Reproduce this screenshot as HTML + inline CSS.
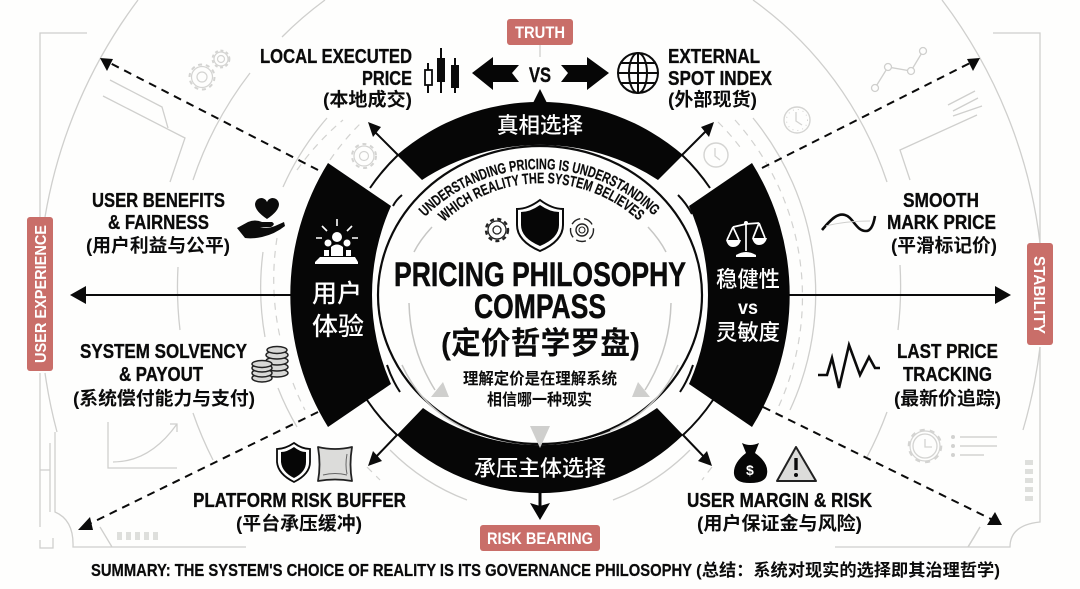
<!DOCTYPE html>
<html lang="en"><head><meta charset="utf-8"><title>Pricing Philosophy Compass</title>
<style>
html,body{margin:0;padding:0;background:#fefefd;width:1080px;height:589px;overflow:hidden}
svg{display:block}
text{font-family:"Liberation Sans","Noto Sans CJK SC",sans-serif;font-weight:700;fill:#0b0b0b}
.l{font-size:20.5px;stroke:#0b0b0b;stroke-width:.35px}.c{font-size:18.5px}.w{fill:#fff}
.g{fill:none;stroke:#cfcfcd;stroke-width:1.3}
.d{fill:none;stroke:#d2d2d0;stroke-width:1.2;stroke-dasharray:7 6}
.b{fill:none;stroke:#0b0b0b;stroke-width:2}
.da{fill:none;stroke:#0b0b0b;stroke-width:2;stroke-dasharray:8 6}
</style></head><body>
<svg width="1080" height="589" viewBox="0 0 1080 589" xmlns="http://www.w3.org/2000/svg">
<!-- frames -->
<path class="g" d="M87 33H40V217M993 33H1040V243M40 373V527M55 432V512Q74 520 73 547H246M50 443V512M40 470H50M40 540V548H53V538M100 527L112 547M835 547H1010Q1010 525 1040 522V347M968 547L980 527"/>
<path d="M117 536H162M1029 460V503" fill="none" stroke="#dedfdc" stroke-width="8" stroke-dasharray="5 4"/>
<!-- large arcs -->
<path class="g" d="M45 217A500 500 0 0 1 138 0M942 0A500 500 0 0 1 1040 243M1040 347A500 500 0 0 1 1023 430M980 527A500 500 0 0 1 968 547M45 373A500 500 0 0 0 57 432"/>
<path class="g" d="M193 180A365 365 0 0 1 250 73M282 37A365 365 0 0 1 325 0M753 0A365 365 0 0 1 887 182M900 265A365 365 0 0 1 898 330M887 412A365 365 0 0 1 867 457M178 267A365 365 0 0 0 180 330M193 413A365 365 0 0 0 213 460"/>
<path class="g" d="M283 187A277 277 0 0 1 327 118M753 118A277 277 0 0 1 790 410M263 252A277 277 0 0 0 265 337M278 388A277 277 0 0 0 297 427M390 450A216 216 0 0 0 467 500M690 450A216 216 0 0 1 613 500"/>
<path class="d" d="M297 170A265 265 0 0 1 343 120M735 120A265 265 0 0 1 777 410M277 238A265 265 0 0 0 280 337M293 383A265 265 0 0 0 305 410M330 160A248 248 0 0 1 362 122M718 122A248 248 0 0 1 740 147M367 467L380 480M712 467L702 480"/>
<!-- decor lines -->
<path class="g" d="M110 80L162 107L168 128M103 96L185 138L170 182M948 105L975 91M953 111L978 98M953 116L982 106M977 115L900 150L910 180M108 422V468H177M113 462Q150 462 177 424M170 424H177V432"/>
<path class="g" d="M875 88L888 67L911 71L923 51"/>
<g fill="#fefefd" stroke="#cfcfcd" stroke-width="1.3"><circle cx="875" cy="88" r="3.5"/><circle cx="888" cy="67" r="3.5"/><circle cx="911" cy="71" r="3.5"/><circle cx="923" cy="51" r="3.5"/></g>
<!-- gears & clocks -->
<g fill="none" stroke="#d4d4d2">
<circle cx="202" cy="77" r="10.5" stroke-width="1.2"/><circle cx="202" cy="77" r="12.5" stroke-width="2" stroke-dasharray="4 3.8"/><circle cx="202" cy="77" r="5" stroke-width="1.2"/>
<circle cx="221" cy="59" r="7" stroke-width="1.2"/><circle cx="221" cy="59" r="8.5" stroke-width="1.8" stroke-dasharray="3 2.6"/><circle cx="221" cy="59" r="3.5" stroke-width="1.2"/>
<circle cx="364" cy="156" r="10" stroke-width="1.2"/><circle cx="364" cy="156" r="12" stroke-width="2" stroke-dasharray="4 3.8"/><circle cx="364" cy="156" r="4.5" stroke-width="1.2"/>
<circle cx="716" cy="155" r="12" stroke-width="1.4"/><path d="M715 148V156L720 160" stroke-width="1.3"/>
<circle cx="797" cy="120" r="13" stroke-width="1.4"/><circle cx="797" cy="120" r="10.5" stroke-width="1" stroke-dasharray="1 4"/><path d="M796 112V121L802 125" stroke-width="1.3"/>
<circle cx="925" cy="446" r="12" stroke-width="1.3"/><circle cx="925" cy="446" r="16" stroke-width="2.6" stroke-dasharray="5 5"/><circle cx="925" cy="446" r="15" stroke-width="1.2"/><path d="M925 439V447H932" stroke-width="1.3"/>
<path d="M960 437H997M960 446H997M960 455H984" stroke-width="1.5"/>
</g>
<g fill="#d2d2d0"><circle cx="953" cy="437" r="2"/><circle cx="953" cy="446" r="2"/><circle cx="953" cy="455" r="2"/></g>
<!-- axes -->
<path class="b" d="M82 295H292M788 295H1000"/>
<path d="M70 295L86 286V304ZM1011 295L995 286V304Z" fill="#0b0b0b"/>
<path class="da" d="M318 170L106 61M762 168L974 61M318 412L85 526M763 407L995 521"/>
<path d="M100 58L113 59L107 71ZM980 58L967 59L973 71ZM78 530L90 517L93 530ZM1002 525L987 525L995 512Z" fill="#0b0b0b"/>
<!-- gap arcs + arrows -->
<path class="b" d="M370 188A200 200 0 0 1 398 155L372 129M710 188A200 200 0 0 0 682 155L708 129M367 400A200 200 0 0 0 397 435L373 460M713 400A200 200 0 0 1 683 435L707 460"/>
<path d="M368 122L381 127L373 137ZM714 122L701 127L709 137ZM368 466L382 461L373 451ZM712 466L698 461L707 451Z" fill="#0b0b0b"/>
<!-- sectors -->
<g fill="#060606">
<path d="M328 163A250 250 0 0 0 328 427L391 384A218 218 0 0 1 391 206Z"/>
<path d="M752 163A250 250 0 0 1 752 427L689 384A218 218 0 0 0 689 206Z"/>
<path d="M397 155A219 219 0 0 1 683 155L658 180A216 216 0 0 0 422 180Z"/>
<path d="M397 435A205 205 0 0 0 683 435L657 408A203 203 0 0 1 423 408Z"/>
<path d="M540 89L533 103H547Z"/>
<path d="M538.5 490V508H541.5V490Z"/><path d="M540 520L530 503L540 506L550 503Z"/>
</g>
<!-- center -->
<ellipse cx="540" cy="295" rx="162" ry="149" fill="#fefefd" stroke="#0b0b0b" stroke-width="2.2"/>
<path class="b" d="M402 195Q396 200 393 206M400 392Q392 380 387 365M678 195Q686 203 692 214M680 392Q688 380 693 365" stroke-width="1.6"/>
<path class="g" d="M409 303Q410 350 435 390M671 303Q670 350 645 390M414 252Q420 240 432 227M666 252Q660 240 648 227M402 365Q425 415 480 435M678 365Q655 415 600 435" style="stroke:#c6c6c4;stroke-width:1.5"/>
<path class="b" d="M470 430Q485 436 498 439M610 430Q595 436 582 439" stroke-width="1.6"/>
<path d="M530 426H550L540 448ZM443 382L449 397H431ZM638 382L632 397H650Z" fill="#cfcfcd"/>
<!-- pills -->
<g fill="#c96e69">
<rect x="27" y="217" width="26" height="154" rx="3"/>
<rect x="1027" y="243" width="26" height="102" rx="3"/>
<rect x="507" y="19" width="66" height="26" rx="3"/>
<rect x="480" y="525" width="120" height="26" rx="3"/>
</g>
<path class="g" d="M540 45V57"/>
<text class="w" font-size="17" x="515" y="38" textLength="50" lengthAdjust="spacingAndGlyphs">TRUTH</text>
<text class="w" font-size="17" x="487" y="544" textLength="106" lengthAdjust="spacingAndGlyphs">RISK BEARING</text>
<text class="w" font-size="16" transform="translate(46 363) rotate(-90)" textLength="138" lengthAdjust="spacingAndGlyphs">USER EXPERIENCE</text>
<text class="w" font-size="16" transform="translate(1034 256) rotate(90)" textLength="78" lengthAdjust="spacingAndGlyphs">STABILITY</text>
<!-- VS arrows -->
<path d="M472 73L493 57V65H519L512 73L519 82H493V90Z" fill="#060606"/>
<path d="M609 73L587 57V65H561L568 73L561 82H587V90Z" fill="#060606"/>
<text font-size="21" x="529" y="82" textLength="22" lengthAdjust="spacingAndGlyphs" stroke="#0b0b0b" stroke-width=".4">VS</text>
<!-- candles -->
<path class="b" d="M428 63V93M441 48V93M455 58V93"/>
<rect x="425" y="70" width="7" height="15" fill="#fff" stroke="#0b0b0b" stroke-width="1.8"/>
<rect x="437" y="58" width="8" height="24" fill="#0b0b0b"/><rect x="451" y="65" width="8" height="23" fill="#0b0b0b"/>
<!-- globe -->
<g fill="none" stroke="#0b0b0b" stroke-width="2"><circle cx="638" cy="73" r="20"/><ellipse cx="638" cy="73" rx="9" ry="20"/><path d="M638 53V93M618 73H658M621 63H655M621 83H655"/></g>
<!-- labels -->
<text class="l" x="260" y="63" textLength="152" lengthAdjust="spacingAndGlyphs">LOCAL EXECUTED</text>
<text class="l" x="362" y="85" textLength="50" lengthAdjust="spacingAndGlyphs">PRICE</text>
<text class="c" x="323" y="106" textLength="89" lengthAdjust="spacingAndGlyphs">(本地成交)</text>
<text class="l" x="668" y="63" textLength="92" lengthAdjust="spacingAndGlyphs">EXTERNAL</text>
<text class="l" x="668" y="85" textLength="104" lengthAdjust="spacingAndGlyphs">SPOT INDEX</text>
<text class="c" x="668" y="106" textLength="89" lengthAdjust="spacingAndGlyphs">(外部现货)</text>
<text class="l" x="92" y="207" textLength="133" lengthAdjust="spacingAndGlyphs">USER BENEFITS</text>
<text class="l" x="108" y="229" textLength="101" lengthAdjust="spacingAndGlyphs">&amp; FAIRNESS</text>
<text class="c" x="86" y="252" textLength="144" lengthAdjust="spacingAndGlyphs">(用户利益与公平)</text>
<text class="l" x="903" y="207" textLength="76" lengthAdjust="spacingAndGlyphs">SMOOTH</text>
<text class="l" x="887" y="229" textLength="109" lengthAdjust="spacingAndGlyphs">MARK PRICE</text>
<text class="c" x="891" y="252" textLength="106" lengthAdjust="spacingAndGlyphs">(平滑标记价)</text>
<text class="l" x="80" y="358" textLength="167" lengthAdjust="spacingAndGlyphs">SYSTEM SOLVENCY</text>
<text class="l" x="119" y="381" textLength="84" lengthAdjust="spacingAndGlyphs">&amp; PAYOUT</text>
<text class="c" x="73" y="405" textLength="182" lengthAdjust="spacingAndGlyphs">(系统偿付能力与支付)</text>
<text class="l" x="897" y="358" textLength="101" lengthAdjust="spacingAndGlyphs">LAST PRICE</text>
<text class="l" x="903" y="381" textLength="89" lengthAdjust="spacingAndGlyphs">TRACKING</text>
<text class="c" x="894" y="405" textLength="107" lengthAdjust="spacingAndGlyphs">(最新价追踪)</text>
<text class="l" x="193" y="507" textLength="213" lengthAdjust="spacingAndGlyphs">PLATFORM RISK BUFFER</text>
<text class="c" x="236" y="530" textLength="126" lengthAdjust="spacingAndGlyphs">(平台承压缓冲)</text>
<text class="l" x="687" y="507" textLength="185" lengthAdjust="spacingAndGlyphs">USER MARGIN &amp; RISK</text>
<text class="c" x="697" y="530" textLength="165" lengthAdjust="spacingAndGlyphs">(用户保证金与风险)</text>
<text font-size="17.5" x="91" y="576" textLength="601" lengthAdjust="spacingAndGlyphs" stroke="#0b0b0b" stroke-width=".25">SUMMARY: THE SYSTEM'S CHOICE OF REALITY IS ITS GOVERNANCE PHILOSOPHY</text>
<text font-size="17" x="696" y="576" textLength="304" lengthAdjust="spacingAndGlyphs">(总结&#xFF1A;系统对现实的选择即其治理哲学)</text>
<!-- sector text -->
<text class="w" font-size="22" x="497" y="133" textLength="86" lengthAdjust="spacingAndGlyphs" style="font-weight:500">真相选择</text>
<text class="w" font-size="22" x="474" y="476" textLength="132" lengthAdjust="spacingAndGlyphs" style="font-weight:500">承压主体选择</text>
<text class="w" font-size="25" x="312" y="302" textLength="50" lengthAdjust="spacingAndGlyphs" style="font-weight:500">用户</text>
<text class="w" font-size="25" x="312" y="335" textLength="52" lengthAdjust="spacingAndGlyphs" style="font-weight:500">体验</text>
<text class="w" font-size="22" x="716" y="287" textLength="64" lengthAdjust="spacingAndGlyphs" style="font-weight:500">稳健性</text>
<text class="w" font-size="19" x="738" y="314" textLength="20" lengthAdjust="spacingAndGlyphs">vs</text>
<text class="w" font-size="22" x="716" y="340" textLength="64" lengthAdjust="spacingAndGlyphs" style="font-weight:500">灵敏度</text>
<!-- center text -->
<path id="a1" d="M425 217A162 162 0 0 1 655 217" fill="none"/>
<path id="a2" d="M444 222A143 143 0 0 1 640 222" fill="none"/>
<text font-size="15" stroke="#0b0b0b" stroke-width=".2"><textPath href="#a1" textLength="254" lengthAdjust="spacingAndGlyphs">UNDERSTANDING PRICING IS UNDERSTANDING</textPath></text>
<text font-size="15" stroke="#0b0b0b" stroke-width=".2"><textPath href="#a2" textLength="214" lengthAdjust="spacingAndGlyphs">WHICH REALITY THE SYSTEM BELIEVES</textPath></text>
<text font-size="34" x="394" y="286" textLength="292" lengthAdjust="spacingAndGlyphs" stroke="#0b0b0b" stroke-width=".5">PRICING PHILOSOPHY</text>
<text font-size="34" x="474" y="318" textLength="132" lengthAdjust="spacingAndGlyphs" stroke="#0b0b0b" stroke-width=".5">COMPASS</text>
<text font-size="31" x="441" y="354" textLength="199" lengthAdjust="spacingAndGlyphs">(定价哲学罗盘)</text>
<text font-size="16" x="463" y="384" textLength="154" lengthAdjust="spacingAndGlyphs">理解定价是在理解系统</text>
<text font-size="16" x="487" y="405" textLength="105" lengthAdjust="spacingAndGlyphs">相信哪一种现实</text>
<!-- center icons -->
<path d="M540 200Q528 209 517 209V225Q517 241 540 251Q563 241 563 225V209Q552 209 540 200Z" fill="none" stroke="#0b0b0b" stroke-width="2"/>
<path d="M540 205Q530 212 521 212V225Q521 238 540 246Q559 238 559 225V212Q550 212 540 205Z" fill="#060606"/>
<g fill="none" stroke="#222"><circle cx="497" cy="230" r="9" stroke-width="1.3"/><circle cx="497" cy="230" r="11" stroke-width="2.4" stroke-dasharray="4 3.4"/><circle cx="497" cy="230" r="4" stroke-width="1.3"/>
<circle cx="582" cy="230" r="11.5" stroke-width="1.4" stroke-dasharray="10 4"/><circle cx="582" cy="230" r="6" stroke-width="1.4"/><circle cx="582" cy="230" r="3" stroke-width="1.1"/></g>
<!-- people icon -->
<g fill="#fff"><circle cx="337" cy="237" r="5"/><circle cx="328" cy="243" r="3.5"/><circle cx="347" cy="243" r="3.5"/>
<path d="M331 256V247Q337 242 343 247V256ZM324 256V250H329V256ZM346 256V250H351V256ZM320 257H355L358 262V264H315V262Z"/></g>
<path d="M337 219V226M322 226L327 231M352 226L347 231M316 238H322M352 238H358" stroke="#fff" stroke-width="1.6" fill="none"/>
<!-- scale icon -->
<g stroke="#fff" fill="none" stroke-width="1.7"><path d="M746 224V251M733 227L746 224L759 223M733 227L727 240M733 227L739 240M759 223L753 238M759 223L765 238"/></g>
<g fill="#fff"><path d="M726 240H741Q739 247 733 247Q728 247 726 240ZM752 238H767Q765 245 759 245Q754 245 752 238ZM736 255Q746 249 756 255V257H736Z"/><circle cx="746" cy="223" r="2"/></g>
<!-- heart hand -->
<path d="M267 219Q255 211 255 204Q256 198 262 198Q266 199 267 202Q268 199 272 198Q278 198 279 204Q279 211 267 219Z" fill="#0b0b0b"/>
<path d="M237 228L248 222Q255 219 262 222H272Q276 224 271 227H260Q268 229 275 226L284 222L285 226Q275 234 262 237Q253 239 245 238Z" fill="#0b0b0b"/>
<!-- coins -->
<g fill="#d8d8d6" stroke="#222" stroke-width="1.5">
<ellipse cx="277" cy="373" rx="11" ry="4"/><ellipse cx="277" cy="367" rx="11" ry="4"/><ellipse cx="277" cy="361" rx="11" ry="4"/><ellipse cx="277" cy="355" rx="11" ry="4"/><ellipse cx="277" cy="350" rx="10" ry="3.5"/>
<ellipse cx="262" cy="378" rx="10" ry="4"/><ellipse cx="262" cy="373" rx="10" ry="4"/><ellipse cx="262" cy="368" rx="10" ry="4"/><ellipse cx="262" cy="364" rx="10" ry="3.5"/>
</g>
<!-- wave -->
<path d="M822 230C832 218 838 213 845 215C853 217 856 231 866 231C872 231 874 222 875 216" fill="none" stroke="#0b0b0b" stroke-width="2.6"/>
<path d="M826 226Q845 221 870 221" fill="none" stroke="#cfcfcd" stroke-width="1"/>
<!-- ecg -->
<path d="M818 375H827L832 358L839 388L849 345L860 375L869 357L875 368H880" fill="none" stroke="#0b0b0b" stroke-width="2.6"/>
<!-- shield & pillow -->
<path d="M294 443Q285 449 277 449V462Q278 474 294 482Q310 474 310 462V449Q302 449 294 443Z" fill="none" stroke="#0b0b0b" stroke-width="1.8"/>
<path d="M294 447Q287 452 281 452V462Q282 472 294 478Q306 472 306 462V452Q300 452 294 447Z" fill="#060606"/>
<path d="M318 447Q335 451 352 447Q349 465 352 481Q335 478 318 481Q321 465 318 447Z" fill="#dcdcda" stroke="#222" stroke-width="1.8" stroke-linejoin="round"/>
<path d="M347 454Q345 465 347 474M323 475Q335 472 347 475" fill="none" stroke="#666" stroke-width="1"/>
<!-- money bag -->
<path d="M742 443Q750 447 759 443L755 453Q769 463 767 474Q766 483 750 483Q735 483 734 474Q733 463 746 453Z" fill="#060606"/>
<text class="w" font-size="14" x="746" y="475">$</text>
<!-- warning -->
<path d="M796 447L816 481H777Z" fill="#dcdcda" stroke="#222" stroke-width="2" stroke-linejoin="round"/>
<path d="M796 458V470" stroke="#0b0b0b" stroke-width="3.4"/><circle cx="796" cy="475" r="2" fill="#0b0b0b"/>
</svg>
</body></html>
